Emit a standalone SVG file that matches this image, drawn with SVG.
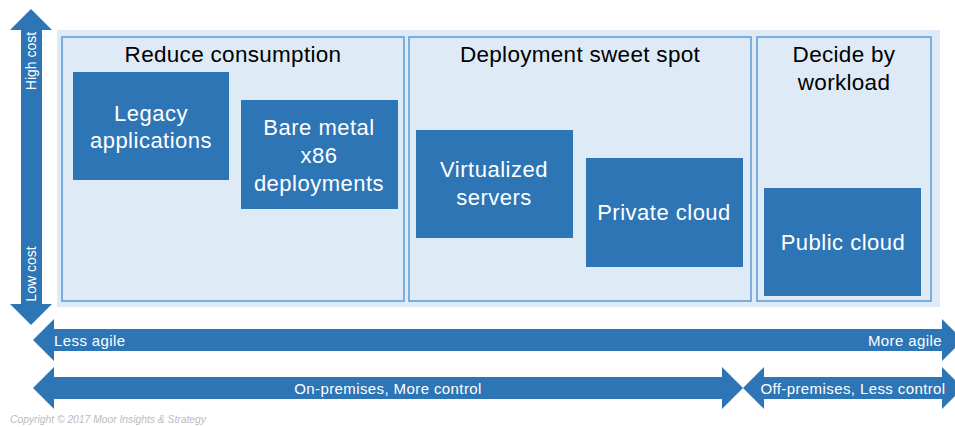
<svg xmlns="http://www.w3.org/2000/svg" width="955" height="427" viewBox="0 0 955 427">
<style>
.sec{fill:#DEEBF7;stroke:#5B9BD5;stroke-width:1.5}
.box{fill:#2E75B6}
.arr{fill:#2E75B6}
.t{font-family:"Liberation Sans",Arial,sans-serif;text-anchor:middle}
.title{font-size:22.5px;letter-spacing:0.3px;fill:#000}
.bt{font-size:22px;letter-spacing:0.5px;fill:#fff}
.at{font-size:15px;letter-spacing:0.4px;fill:#fff}
.vt{font-size:14px;fill:#fff}
</style>
<rect x="0" y="0" width="955" height="427" fill="#fff"/>
<rect x="57" y="30" width="883" height="277" fill="#DEEBF7"/>
<g id="sec-reduce">
<rect class="sec" x="62" y="37" width="342" height="264"/>
<text class="t title" x="233" y="62">Reduce consumption</text>
</g>
<g id="sec-sweet">
<rect class="sec" x="409" y="37" width="342" height="264"/>
<text class="t title" x="580" y="62">Deployment sweet spot</text>
</g>
<g id="sec-decide">
<rect class="sec" x="757" y="37" width="174" height="264"/>
<text class="t title" x="844" y="62">Decide by</text>
<text class="t title" x="844" y="90">workload</text>
</g>
<g id="legacy">
<rect class="box" x="73" y="72" width="156" height="108"/>
<text class="t bt" x="151" y="121">Legacy</text>
<text class="t bt" x="151" y="148">applications</text>
</g>
<g id="baremetal">
<rect class="box" x="241" y="100" width="157" height="109"/>
<text class="t bt" x="319" y="135">Bare metal</text>
<text class="t bt" x="319" y="163">x86</text>
<text class="t bt" x="319" y="191">deployments</text>
</g>
<g id="virtualized">
<rect class="box" x="416" y="130" width="157" height="108"/>
<text class="t bt" x="494" y="177">Virtualized</text>
<text class="t bt" x="494" y="205">servers</text>
</g>
<g id="private">
<rect class="box" x="586" y="158" width="157" height="109"/>
<text class="t bt" x="664" y="220">Private cloud</text>
</g>
<g id="public">
<rect class="box" x="764" y="188" width="157" height="108"/>
<text class="t bt" x="843" y="250">Public cloud</text>
</g>
<g id="connectors">
<polygon class="arr" points="31,9 52,30 42,30 42,304 52,304 31,325 10,304 21,304 21,30 10,30"/>
<polygon class="arr" points="33,340 54,319 54,329 942,329 942,319 963,340 942,361 942,351 54,351 54,361"/>
<polygon class="arr" points="33,388 54,367 54,377 722,377 722,367 743,388 722,409 722,399 54,399 54,409"/>
<polygon class="arr" points="743,388 764,367 764,377 942,377 942,367 963,388 942,409 942,399 764,399 764,409"/>
</g>
<text class="t vt" transform="translate(36,61) rotate(-90)">High cost</text>
<text class="t vt" transform="translate(36,274) rotate(-90)">Low cost</text>
<text class="t at" x="54" y="346" style="text-anchor:start">Less agile</text>
<text class="t at" x="942" y="346" style="text-anchor:end">More agile</text>
<text class="t at" x="388" y="394">On-premises, More control</text>
<text class="t at" x="853" y="394">Off-premises, Less control</text>
<text x="10" y="423" style="font-family:'Liberation Sans',Arial,sans-serif;font-size:10.3px;font-style:italic;fill:#BBBBBB">Copyright © 2017 Moor Insights &amp; Strategy</text>
</svg>
